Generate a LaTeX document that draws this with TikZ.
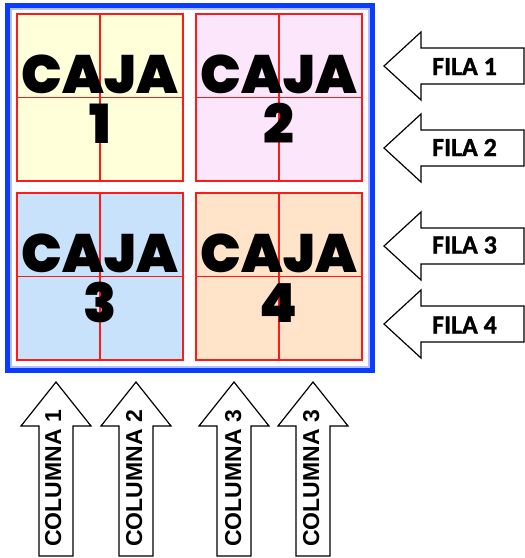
\documentclass[tikz,border=0pt]{standalone}
\usepackage{fontspec}
\newfontfamily\filafont{Carlito Bold}[FakeBold=1.2]
\newfontfamily\colfont{Liberation Sans Bold}
\newfontfamily\cajafont{Poppins Black}
\definecolor{framecol}{HTML}{0A3CFF}
\definecolor{framelight}{HTML}{B4C0FF}
\definecolor{redline}{HTML}{FF1A1A}
\definecolor{cA}{HTML}{FFFFDA}
\definecolor{cB}{HTML}{FCE6FC}
\definecolor{cC}{HTML}{C9E2FB}
\definecolor{cD}{HTML}{FFE4CA}
\tikzset{
  box/.style={draw=redline, line width=2pt, minimum width=166pt, minimum height=167pt, inner sep=0pt},
  midline/.style={draw=redline, line width=1.6pt},
  caja/.style={font=\cajafont\fontsize{54}{56}\selectfont, inner sep=0pt},
  arrowshape/.style={draw=black, line width=1.2pt, fill=white, line join=miter},
  filatext/.style={font=\filafont\fontsize{26}{30}\selectfont, inner sep=0pt},
  coltext/.style={font=\colfont\fontsize{23}{27}\selectfont, inner sep=0pt, rotate=90, anchor=base west},
}
\begin{document}
\begin{tikzpicture}[x=1pt,y=-1pt]
\useasboundingbox (0,0) rectangle (525,558);
% frame
\draw[line width=5pt, framecol] (7.5,5.5) rectangle (372.5,370.5);
\draw[line width=1.5pt, framelight] (10.8,8.8) rectangle (369.2,367.2);
% boxes
\node[box, fill=cA] (b1) at (100,97.5) {};
\node[box, fill=cB] (b2) at (279,97.5) {};
\node[box, fill=cC] (b3) at (100,276.5) {};
\node[box, fill=cD] (b4) at (279,276.5) {};
\foreach \b in {b1,b2,b3,b4}{
  \draw[midline] (\b.north) -- (\b.south);
  \draw[midline] (\b.west) -- (\b.east);
}
% texts
\node[caja, anchor=base] (t1) at (100,93) {CAJA};
\node[caja, anchor=base] (n1) at (100,143) {1};
\node[caja, anchor=base] (t2) at (279,93) {CAJA};
\node[caja, anchor=base] (n2) at (279,143) {2};
\node[caja, anchor=base] (t3) at (100,272) {CAJA};
\node[caja, anchor=base] (n3) at (100,322) {3};
\node[caja, anchor=base] (t4) at (279,272) {CAJA};
\node[caja, anchor=base] (n4) at (279,322) {4};
% row arrows
\foreach \c in {66,148,246,324}{
  \draw[arrowshape] (384,\c) -- (421,\c-34) -- (421,\c-18) -- (524,\c-18) -- (524,\c+18) -- (421,\c+18) -- (421,\c+34) -- cycle;
}
\node[filatext, anchor=base west] (f1) at (432,75) {FILA 1};
\node[filatext, anchor=base west] (f2) at (432,156) {FILA 2};
\node[filatext, anchor=base west] (f3) at (432,253.5) {FILA 3};
\node[filatext, anchor=base west] (f4) at (432,333.5) {FILA 4};
% column arrows
\foreach \c in {56,136,234,313}{
  \draw[arrowshape] (\c,382) -- (\c+35,426) -- (\c+17,426) -- (\c+17,556) -- (\c-17,556) -- (\c-17,426) -- (\c-35,426) -- cycle;
}
\node[coltext] (k1) at (61,547) {COLUMNA 1};
\node[coltext] (k2) at (142,547) {COLUMNA 2};
\node[coltext] (k3) at (241,547) {COLUMNA 3};
\node[coltext] (k4) at (319,547) {COLUMNA 3};
\end{tikzpicture}
\end{document}
